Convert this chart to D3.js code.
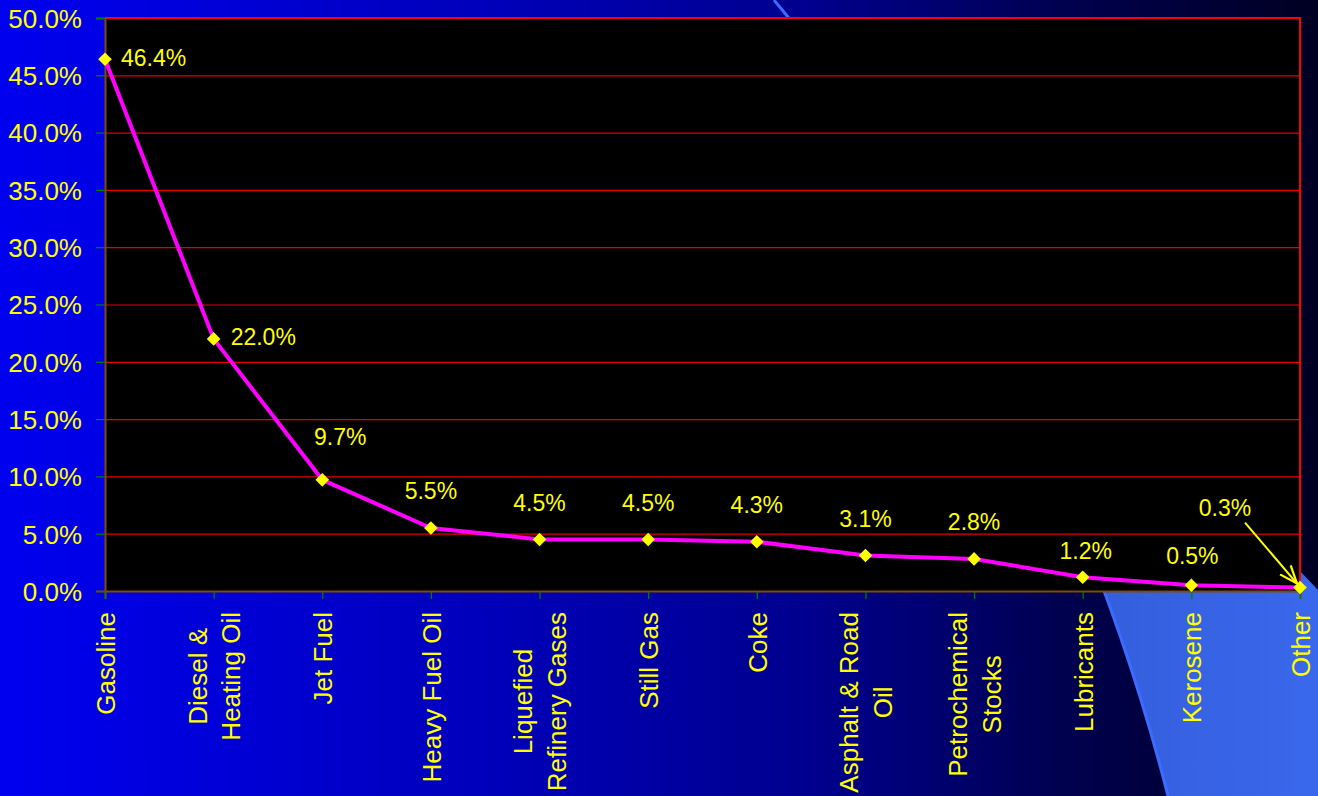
<!DOCTYPE html>
<html>
<head>
<meta charset="utf-8">
<script src="https://cdn.jsdelivr.net/npm/d3@7"></script>
<style>
  html, body { margin: 0; padding: 0; background: #000; }
  svg { display: block; }
  text { font-family: "Liberation Sans", Arial, sans-serif; fill: #ffff00; }
</style>
</head>
<body>
<svg id="chart" width="1318" height="796"></svg>
<script>
// Share of refinery output by product (percent)
const categories = [
  "Gasoline", "Diesel &\nHeating Oil", "Jet Fuel", "Heavy Fuel Oil",
  "Liquefied\nRefinery Gases", "Still Gas", "Coke", "Asphalt & Road\nOil",
  "Petrochemical\nStocks", "Lubricants", "Kerosene", "Other"
];
const values = [46.4, 22.0, 9.7, 5.5, 4.5, 4.5, 4.3, 3.1, 2.8, 1.2, 0.5, 0.3];
const yTicks = [0, 5, 10, 15, 20, 25, 30, 35, 40, 45, 50];

const W = 1318, H = 796;
const plot = { left: 105, right: 1300, top: 18, bottom: 591 };

const svg = d3.select("#chart");
const defs = svg.append("defs");

// slide background: blue fading to navy toward the right
const bg = defs.append("linearGradient").attr("id", "bg").attr("x1", 0).attr("x2", 1).attr("y1", 0).attr("y2", 0);
[[0, "#0000f0"], [0.38, "#0000b8"], [0.62, "#00008c"], [0.82, "#00004c"], [1, "#000022"]]
  .forEach(([o, c]) => bg.append("stop").attr("offset", o).attr("stop-color", c));

const band = defs.append("linearGradient").attr("id", "band").attr("x1", 0).attr("x2", 1).attr("y1", 0).attr("y2", 0);
[[0, "#2a4fc6"], [1, "#3a68ec"]].forEach(([o, c]) => band.append("stop").attr("offset", o).attr("stop-color", c));

defs.append("clipPath").attr("id", "belowTop")
  .append("rect").attr("x", 0).attr("y", plot.top).attr("width", W).attr("height", H - plot.top);

defs.append("marker")
  .attr("id", "arrowHead").attr("viewBox", "0 0 20 20")
  .attr("refX", 18).attr("refY", 10).attr("markerWidth", 20).attr("markerHeight", 20)
  .attr("markerUnits", "userSpaceOnUse").attr("orient", "auto")
  .append("path").attr("d", "M0,3 L18,10 L0,17").attr("fill", "none")
  .attr("stroke", "#ffff00").attr("stroke-width", 2.2);

svg.append("rect").attr("width", W).attr("height", H).attr("fill", "url(#bg)");

// decorative swoosh behind the plot
const swoosh = "M774,0 C900,150 1080,450 1168,796";
svg.append("path")
  .attr("d", swoosh + " L1318,796 L1318,590 L1300,571 L900,150 Z")
  .attr("fill", "url(#band)")
  .attr("clip-path", "url(#belowTop)");
svg.append("path")
  .attr("d", swoosh)
  .attr("fill", "none").attr("stroke", "#3c6cff").attr("stroke-width", 3);

const x = d3.scalePoint().domain(categories).range([plot.left, plot.right]).padding(0);
const y = d3.scaleLinear().domain([0, 50]).range([plot.bottom, plot.top]);

// plot area
svg.append("rect")
  .attr("x", plot.left).attr("y", plot.top)
  .attr("width", plot.right - plot.left).attr("height", plot.bottom - plot.top)
  .attr("fill", "#000");

// horizontal gridlines
const grid = svg.append("g").attr("transform", `translate(${plot.left},0)`)
  .call(d3.axisLeft(y).tickValues(yTicks.filter(d => d > 0)).tickSize(-(plot.right - plot.left)).tickFormat(""));
grid.select(".domain").remove();
grid.selectAll(".tick line").attr("stroke", "#e60000").attr("stroke-width", 1.2);

// top and right border
svg.append("path")
  .attr("d", `M${plot.left},${plot.top} H${plot.right} V${plot.bottom}`)
  .attr("fill", "none").attr("stroke", "#ff0000").attr("stroke-width", 2);

// y axis
const yAxis = svg.append("g").attr("transform", `translate(${plot.left},0)`)
  .call(d3.axisLeft(y).tickValues(yTicks).tickSize(9).tickPadding(14).tickFormat(d => d.toFixed(1) + "%"));
yAxis.select(".domain").attr("stroke", "#7f4a0c").attr("stroke-width", 2);
yAxis.selectAll(".tick line").attr("stroke", "#008000").attr("stroke-width", 1.2);
yAxis.selectAll(".tick text").attr("font-size", 26).attr("fill", "#ffff00")
  .attr("font-family", "Liberation Sans, Arial, sans-serif").attr("dy", "0.36em");

// x axis
const xAxis = svg.append("g").attr("transform", `translate(0,${plot.bottom})`)
  .call(d3.axisBottom(x).tickSize(8).tickFormat(""));
xAxis.select(".domain").attr("stroke", "#7f4a0c").attr("stroke-width", 2);
xAxis.selectAll(".tick line").attr("stroke", "#008000").attr("stroke-width", 1.2);
xAxis.selectAll(".tick text").remove();

// rotated, possibly two-line category labels
const lineGap = 34;
xAxis.selectAll(".tick").each(function (d) {
  const lines = d.split("\n");
  const g = d3.select(this).append("g").attr("transform", "rotate(-90)");
  const texts = lines.map((s, i) => g.append("text")
    .attr("font-size", 26)
    .attr("text-anchor", "middle")
    .attr("y", (i - (lines.length - 1) / 2) * lineGap)
    .attr("dy", "0.36em")
    .text(s));
  const maxW = d3.max(texts, t => t.node().getComputedTextLength());
  texts.forEach(t => t.attr("x", -(21 + maxW / 2)));
});

// series line
const pts = categories.map((c, i) => [x(c), y(values[i])]);
svg.append("path")
  .attr("d", d3.line()(pts))
  .attr("fill", "none").attr("stroke", "#ff00ff").attr("stroke-width", 4)
  .attr("stroke-linejoin", "round");

// diamond markers
svg.append("g").selectAll("path").data(pts).join("path")
  .attr("transform", p => `translate(${p[0]},${p[1]})`)
  .attr("d", "M0,-6.8 L6.8,0 L0,6.8 L-6.8,0 Z")
  .attr("fill", "#ffff00");

// value labels: the two largest sit to the right, the rest above
const labelPlace = {
  "Gasoline": { dx: 16, dy: -2, anchor: "start" },
  "Diesel &\nHeating Oil": { dx: 17, dy: -2, anchor: "start" },
  "Jet Fuel": { dx: 18, dy: -43, anchor: "middle" },
  "Lubricants": { dx: 3, dy: -27, anchor: "middle" },
  "Kerosene": { dx: 1, dy: -30, anchor: "middle" },
  "Other": { dx: -75, dy: -80, anchor: "middle" }
};
svg.append("g").selectAll("text").data(categories).join("text")
  .each(function (c, i) {
    const p = labelPlace[c] || { dx: 0, dy: -37, anchor: "middle" };
    d3.select(this)
      .attr("x", x(c) + p.dx)
      .attr("y", y(values[i]) + p.dy)
      .attr("dy", "0.36em")
      .attr("text-anchor", p.anchor)
      .attr("font-size", 23)
      .text(values[i].toFixed(1) + "%");
  });

// leader arrow for the smallest share
const last = categories[categories.length - 1];
const tip = [x(last) - 3, y(values[values.length - 1]) - 4];
svg.append("line")
  .attr("x1", tip[0] - 52).attr("y1", tip[1] - 61)
  .attr("x2", tip[0]).attr("y2", tip[1])
  .attr("stroke", "#ffff00").attr("stroke-width", 2)
  .attr("marker-end", "url(#arrowHead)");
</script>
</body>
</html>
